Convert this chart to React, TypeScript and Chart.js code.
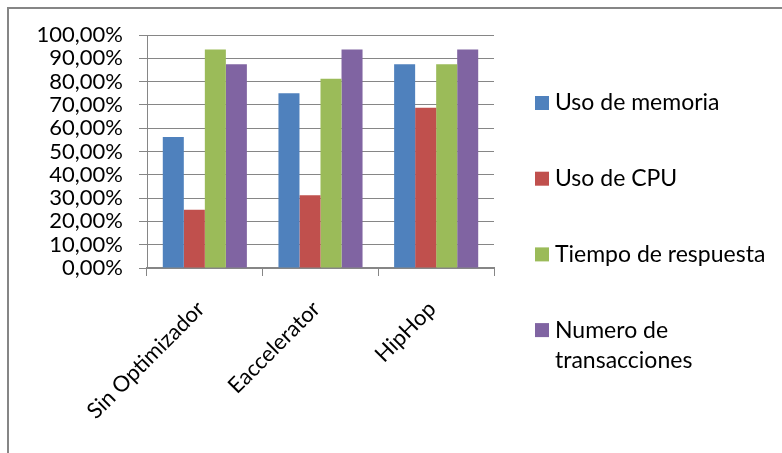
import React, { useEffect, useRef } from "react";
import { Chart, registerables } from "chart.js";

Chart.register(...registerables);

const categories = ["Sin Optimizador", "Eaccelerator", "HipHop"];
const seriesNames = ["Uso de memoria", "Uso de CPU", "Tiempo de respuesta", "Numero de transacciones"];
const usoMemoria = [56.25, 75, 87.5];
const usoCPU = [25, 31.25, 68.75];
const tiempoRespuesta = [93.75, 81.25, 87.5];
const numeroTransacciones = [87.5, 93.75, 93.75];
const seriesColors = ["#4F81BD", "#C0504D", "#9BBB59", "#8064A2"];
const yTickStep = 10;

const FONT = "Lato, 'Open Sans', sans-serif";

const frameAndLegend = {
  id: "frameAndLegend",
  beforeDraw(chart: any) {
    const ctx = chart.ctx;
    ctx.save();
    ctx.fillStyle = "#ffffff";
    ctx.fillRect(0, 0, chart.width, chart.height);
    ctx.strokeStyle = "#868686";
    ctx.lineWidth = 2;
    ctx.beginPath();
    ctx.moveTo(8, chart.height + 2);
    ctx.lineTo(8, 8);
    ctx.lineTo(chart.width + 2, 8);
    ctx.stroke();
    ctx.restore();
  },
  afterDraw(chart: any) {
    const ctx = chart.ctx;
    ctx.save();
    ctx.font = `23px ${FONT}`;
    ctx.textBaseline = "middle";
    ctx.fillStyle = "#000000";
    const boxX = 535;
    const textX = 555;
    const startY = 103;
    const step = 75.7;
    const lineH = 30;
    const maxW = 225;
    chart.data.datasets.forEach((ds: any, i: number) => {
      const y = startY + i * step;
      ctx.fillStyle = ds.backgroundColor;
      ctx.fillRect(boxX, y - 7, 14, 14);
      const words = String(ds.label).split(" ");
      const lines: string[] = [];
      let cur = "";
      words.forEach((w) => {
        const t = cur ? cur + " " + w : w;
        if (ctx.measureText(t).width > maxW && cur) {
          lines.push(cur);
          cur = w;
        } else cur = t;
      });
      if (cur) lines.push(cur);
      ctx.fillStyle = "#000000";
      lines.forEach((l, k) => ctx.fillText(l, textX, y + k * lineH));
    });
    ctx.restore();
  },
};

export default function App() {
  const ref = useRef<HTMLCanvasElement>(null);
  useEffect(() => {
    document.body.style.margin = "0";
    document.body.style.overflow = "hidden";
    const seriesData = [usoMemoria, usoCPU, tiempoRespuesta, numeroTransacciones];
    const chart = new Chart(ref.current!, {
      type: "bar",
      data: {
        labels: categories,
        datasets: seriesNames.map((name, i) => ({
          label: name,
          data: seriesData[i],
          backgroundColor: seriesColors[i],
          borderWidth: 0,
          categoryPercentage: 0.727,
          barPercentage: 1,
        })),
      },
      options: {
        animation: false,
        responsive: false,
        maintainAspectRatio: false,
        layout: { padding: { left: 0, top: 35, right: 288, bottom: 0 } },
        plugins: {
          legend: { display: false },
          tooltip: { enabled: false },
        },
        scales: {
          x: {
            afterFit: (s: any) => {
              s.height = 453 - 268;
            },
            grid: {
              offset: true,
              drawOnChartArea: false,
              drawTicks: true,
              tickLength: 8,
              color: "#868686",
            },
            border: { display: true, color: "#868686", width: 2 },
            ticks: {
              minRotation: 45,
              maxRotation: 45,
              padding: 20,
              labelOffset: -4,
              color: "#000000",
              font: { family: FONT, size: 22 },
            },
          },
          y: {
            min: 0,
            max: 100,
            afterFit: (s: any) => {
              s.width = 147;
            },
            grid: {
              color: "#868686",
              lineWidth: 1,
              drawTicks: true,
              tickLength: 8,
            },
            border: { display: true, color: "#868686", width: 1 },
            ticks: {
              stepSize: yTickStep,
              autoSkip: false,
              padding: 16,
              color: "#000000",
              font: { family: FONT, size: 22 },
              callback: (v: any) => Number(v).toFixed(2).replace(".", ",") + "%",
            },
          },
        },
      },
      plugins: [frameAndLegend],
    });
    return () => chart.destroy();
  }, []);
  return <canvas ref={ref} width={782} height={453} style={{ display: "block" }} />;
}
